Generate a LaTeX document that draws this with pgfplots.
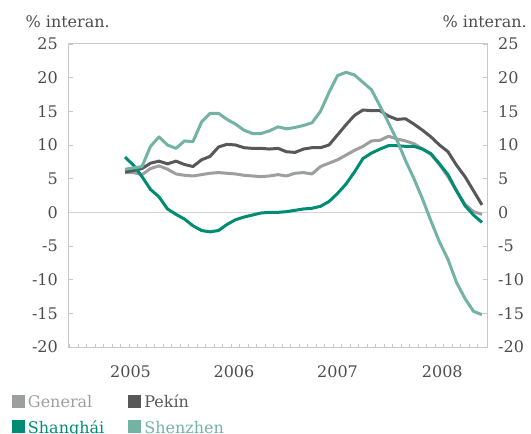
\documentclass[border=0pt]{standalone}
\usepackage{fontspec}
\setmainfont{DejaVu Serif}
\usepackage{pgfplots}
\usepackage{pgfplotstable}
\pgfplotsset{compat=1.18}
\definecolor{cgen}{HTML}{9D9EA0}
\definecolor{cpek}{HTML}{58585A}
\definecolor{csha}{HTML}{008B73}
\definecolor{cshe}{HTML}{73B3A3}
\definecolor{ctxt}{HTML}{4D4D4D}
\definecolor{caxis}{HTML}{C8C8C8}
\pgfplotstableread{
i gen pek sha she
0 5.9 6.0 8.2 6.4
1 5.9 6.2 7.0 6.6
2 5.6 6.5 5.3 6.8
3 6.5 7.3 3.4 9.8
4 6.9 7.6 2.3 11.2
5 6.4 7.2 0.5 10.0
6 5.7 7.6 -0.3 9.5
7 5.5 7.1 -1.0 10.6
8 5.4 6.8 -2.0 10.5
9 5.6 7.8 -2.7 13.4
10 5.8 8.3 -2.9 14.7
11 5.9 9.7 -2.7 14.7
12 5.8 10.1 -1.8 13.8
13 5.7 10.0 -1.1 13.1
14 5.5 9.6 -0.7 12.2
15 5.4 9.5 -0.4 11.7
16 5.3 9.5 -0.1 11.7
17 5.4 9.4 0.0 12.1
18 5.6 9.5 0.0 12.7
19 5.4 9.0 0.1 12.4
20 5.8 8.9 0.3 12.6
21 5.9 9.4 0.5 12.9
22 5.7 9.6 0.6 13.3
23 6.8 9.6 0.9 15.0
24 7.3 10.0 1.6 17.8
25 7.8 11.5 2.8 20.3
26 8.5 13.0 4.2 20.8
27 9.2 14.4 6.0 20.4
28 9.8 15.2 8.0 19.3
29 10.6 15.1 8.8 18.2
30 10.7 15.1 9.4 15.8
31 11.3 14.3 9.9 13.3
32 10.9 13.8 9.9 10.7
33 10.6 13.9 9.8 7.7
34 10.2 13.1 9.8 5.0
35 9.4 12.2 9.4 2.0
36 8.6 11.2 8.7 -1.3
37 7.1 10.0 7.2 -4.4
38 5.3 9.0 5.6 -7.0
39 3.2 7.0 3.2 -10.4
40 1.2 5.3 1.0 -12.8
41 0.1 3.2 -0.4 -14.7
42 -0.3 1.1 -1.5 -15.2
}\datatable
\begin{document}
\begin{tikzpicture}[font=\fontsize{16bp}{19bp}\selectfont]
\useasboundingbox (-69bp,-87bp) rectangle (462bp,347bp);
\pgfplotsset{
  base/.style={
    scale only axis, width=418bp, height=303bp,
    xmin=-6.59, xmax=42.59, ymin=-20, ymax=25,
    ytick={-20,-15,...,25},
    /pgf/number format/assume math mode=true,
    tick label style={color=ctxt, font=\fontsize{16bp}{19bp}\selectfont, inner sep=0pt},
  }
}
\begin{axis}[base, name=ax,
  axis line style={caxis, line width=1bp},
  ytick pos=both, tick align=inside,
  major tick length=4bp, minor tick length=3bp,
  tick style={caxis, line width=0.8bp},
  xtick={0.65,12.82,25.01,37.33},
  xticklabels={2005,2006,2007,2008},
  major x tick style={draw=none},
  minor xtick={-6.5,-5.5,...,41.6},
  xtick pos=bottom,
  xticklabel style={yshift=-18bp},
  yticklabel style={xshift=-11bp},
  extra y ticks={0}, extra y tick labels={},
  extra y tick style={grid=major, major grid style={color=black!17, line width=1.3bp}, major tick length=0pt},
  clip=false,
  legend columns=2,
  legend style={at={(-0.1364,-0.1584)}, anchor=north west, draw=none, fill=none,
    inner sep=0pt, outer sep=0pt,
    nodes={inner sep=0pt, anchor=base west},
    row sep=11bp,
    /tikz/every odd column/.append style={column sep=3bp},
    /tikz/every even column/.append style={column sep=24bp}},
  legend image code/.code={\fill[#1,draw=none] (0bp,0bp) rectangle (13bp,13bp);},
  every axis plot/.append style={line width=3bp, line join=round, no markers},
]
\addplot[cgen] table[x=i, y=gen] {\datatable};
\addlegendentry{\textcolor{cgen}{General}}
\addplot[cpek] table[x=i, y=pek] {\datatable};
\addlegendentry{\textcolor{cpek}{Pekín}}
\addplot[csha] table[x=i, y=sha] {\datatable};
\addlegendentry{\textcolor{csha}{Shanghái}}
\addplot[cshe] table[x=i, y=she] {\datatable};
\addlegendentry{\textcolor{cshe}{Shenzhen}}
\end{axis}
\begin{axis}[base,
  hide x axis,
  axis y line*=right,
  y axis line style={draw=none},
  major tick length=0pt,
  yticklabel style={xshift=11bp},
]
\end{axis}
\node[anchor=base east, inner sep=0pt, color=ctxt] at ([xshift=41bp,yshift=16bp]ax.north west) {\% interan.};
\node[anchor=base east, inner sep=0pt, color=ctxt] at ([xshift=40bp,yshift=16bp]ax.north east) {\% interan.};
\end{tikzpicture}
\end{document}
